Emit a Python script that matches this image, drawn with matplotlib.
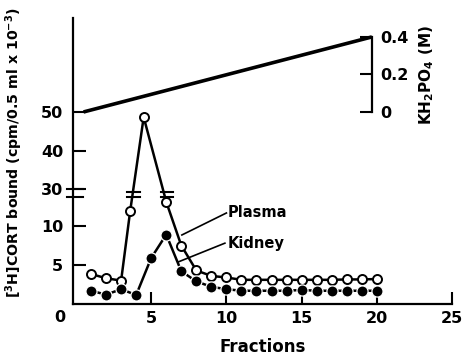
import numpy as np
import matplotlib
matplotlib.use("Agg")
import matplotlib.pyplot as plt
import matplotlib.transforms as mtrans

# ---------------- data ----------------
plasma_x = [1, 2, 3, 3.6, 4.5, 6, 7, 8, 9, 10, 11, 12, 13, 14, 15, 16, 17, 18, 19, 20]
plasma_y = [3.85, 3.3, 3.0, 11.9, 48.7, 13.1, 7.5, 4.3, 3.6, 3.4,
            3.1, 3.1, 3.1, 3.1, 3.1, 3.1, 3.1, 3.15, 3.15, 3.2]
kidney_x = list(range(1, 21))
kidney_y = [1.7, 1.2, 1.9, 1.15, 5.9, 8.9, 4.2, 2.9, 2.2, 1.9,
            1.7, 1.7, 1.7, 1.7, 1.8, 1.7, 1.7, 1.7, 1.7, 1.7]
gradient_x = [0.5, 19.67]
gradient_y = [0.0, 0.4]

x_ticks = [5, 10, 15, 20, 25]
y_ticks = [5, 10, 30, 40, 50]
y2_ticks = [0, 0.2, 0.4]
y2_ticklabels = ["0", "0.2", "0.4"]

# ---------------- broken y scale ----------------
def fwd(v):
    v = np.asarray(v, dtype=float)
    return np.where(v <= 13.5, v,
                    np.where(v < 30, 13.5 + (v - 13.5) * (1.2 / 16.5),
                             14.7 + (v - 30) * 0.495))

def inv(f):
    f = np.asarray(f, dtype=float)
    return np.where(f <= 13.5, f,
                    np.where(f < 14.7, 13.5 + (f - 13.5) * (16.5 / 1.2),
                             30 + (f - 14.7) / 0.495))

plt.rcParams['font.family'] = ['DejaVu Sans']
plt.rcParams['font.weight'] = 'bold'
plt.rcParams['mathtext.default'] = 'bf'

W, H = 462, 359
fig = plt.figure(figsize=(W / 100, H / 100), dpi=100)
ax = fig.add_axes([73 / W, 55 / H, 379 / W, 286 / H])

ax.set_yscale('function', functions=(fwd, inv))
ax.set_xlim(-0.2, 25)
ax.set_ylim(0, float(inv(36.67)))

lw_data = 1.8
ax.plot(plasma_x, plasma_y, '-', color='black', lw=lw_data, marker='o',
        ms=6.5, mfc='white', mec='black', mew=1.4, zorder=3)
ax.plot(kidney_x, kidney_y, '-', color='black', lw=lw_data, marker='o',
        ms=8.0, mfc='black', mec='white', mew=0.9, zorder=4)

for s in ['top', 'right']:
    ax.spines[s].set_visible(False)
for s in ['left', 'bottom']:
    ax.spines[s].set_linewidth(1.6)

ax.set_xticks(x_ticks)
ax.set_xticklabels([str(t) for t in x_ticks])
ax.set_yticks(y_ticks)
ax.set_yticklabels([str(t) for t in y_ticks])
ax.minorticks_off()
ax.tick_params(axis='both', direction='in', length=9, width=1.5, labelsize=11.5)
ax.tick_params(axis='y', pad=7)
ax.tick_params(axis='x', pad=5)

ax.annotate("0", xy=(0, 0), xycoords='axes fraction', xytext=(-13, -13),
            textcoords='offset pixels', ha='center', va='center',
            fontsize=11.5, fontweight='bold')

ax.set_xlabel("Fractions", fontsize=12, fontweight='bold')
ax.xaxis.set_label_coords(0.5, -0.118)
ax.set_ylabel(r"[$^3$H]CORT bound (cpm/0.5 ml x 10$^{-3}$)", fontsize=10.2,
              fontweight='bold')
ax.yaxis.set_label_coords(-0.127, 0.53)

# break marks on left axis
bt = mtrans.blended_transform_factory(ax.transAxes, ax.transData)
for fy in (14.7, 13.75):
    ax.plot([-0.016, 0.026], [float(inv(fy))] * 2, color='black', lw=1.5,
            transform=bt, clip_on=False, zorder=5)
# break marks on plasma line
for xa, xb in ((3.4, 4.25), (5.65, 6.45)):
    for fy in (14.4, 13.76):
        ax.plot([xa, xb], [float(inv(fy))] * 2, color='black', lw=1.5, zorder=5)

# leader lines and labels
ax.plot([7.04, 10.0], [8.85, 11.67], color='black', lw=1.2)
ax.plot([6.78, 9.9], [5.38, 7.8], color='black', lw=1.2)
ax.text(10.05, 11.67, "Plasma", fontsize=10.5, fontweight='bold', ha='left', va='center')
ax.text(10.05, 7.8, "Kidney", fontsize=10.5, fontweight='bold', ha='left', va='center')

# KH2PO4 gradient on twin axis
ax2 = ax.twinx()
ax2.set_ylim(-1.024, 0.501)
ax2.plot(gradient_x, gradient_y, color='black', lw=2.6, solid_capstyle='butt')
for s in ['top', 'left', 'bottom']:
    ax2.spines[s].set_visible(False)
ax2.spines['right'].set_position(('data', 19.67))
ax2.spines['right'].set_bounds(0, 0.4)
ax2.spines['right'].set_linewidth(1.6)
ax2.set_yticks(y2_ticks)
ax2.set_yticklabels(y2_ticklabels)
ax2.tick_params(axis='y', direction='in', length=9, width=1.5, labelsize=11.5, pad=6)

fig.text(427 / W, 1 - 75 / H, r"KH$_2$PO$_4$ (M)", rotation=90, ha='center',
         va='center', fontsize=11, fontweight='bold')

fig.savefig("out.png", dpi=100)
